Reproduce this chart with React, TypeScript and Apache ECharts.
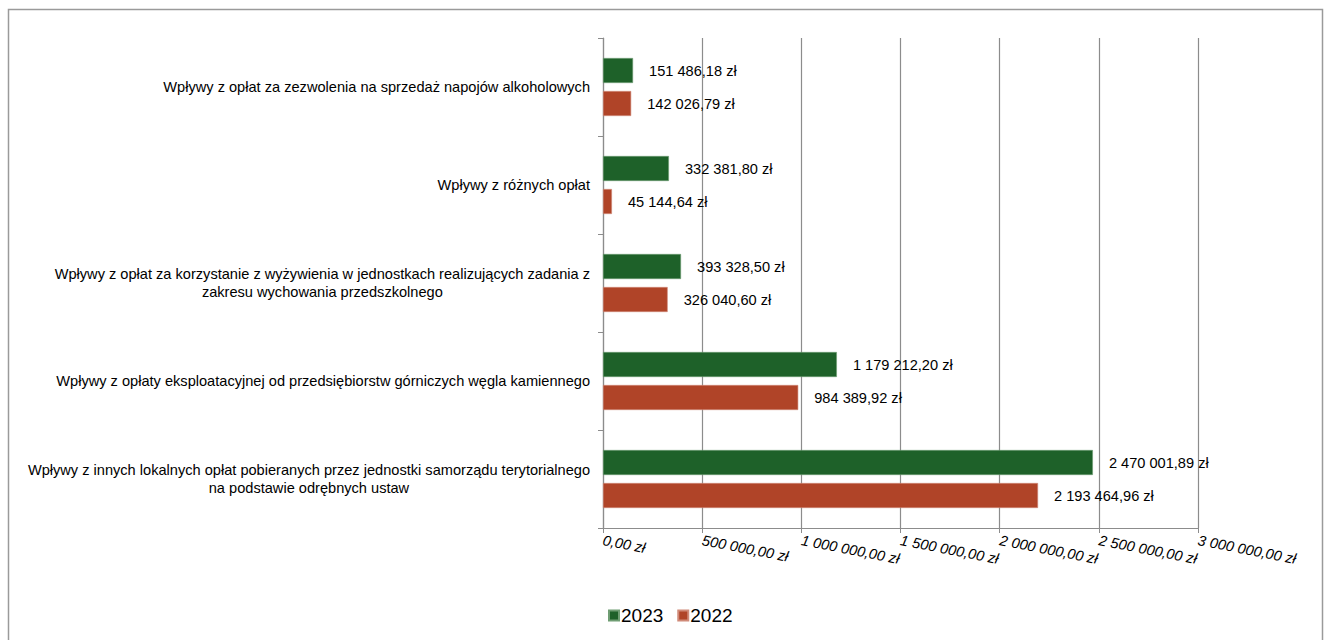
import React, { useEffect, useRef } from "react";
import * as echarts from "echarts";

const categories: string[] = [
  "Wpływy z opłat za zezwolenia na sprzedaż napojów alkoholowych",
  "Wpływy z różnych opłat",
  "Wpływy z opłat za korzystanie z wyżywienia w jednostkach realizujących zadania z\nzakresu wychowania przedszkolnego",
  "Wpływy z opłaty eksploatacyjnej od przedsiębiorstw górniczych węgla kamiennego",
  "Wpływy z innych lokalnych opłat pobieranych przez jednostki samorządu terytorialnego\nna podstawie odrębnych ustaw",
];
const values2023: number[] = [151486.18, 332381.8, 393328.5, 1179212.2, 2470001.89];
const values2022: number[] = [142026.79, 45144.64, 326040.6, 984389.92, 2193464.96];
const seriesNames: string[] = ["2023", "2022"];
const axisMin = 0;
const axisMax = 3000000;
const axisInterval = 500000;

const fmt = (v: number): string => {
  const [intPart, dec] = v.toFixed(2).split(".");
  const withSpaces = intPart.replace(/\B(?=(\d{3})+(?!\d))/g, " ");
  return `${withSpaces},${dec} zł`;
};

export default function App() {
  const ref = useRef<HTMLDivElement>(null);
  useEffect(() => {
    if (!ref.current) return;
    const chart = echarts.init(ref.current, undefined, { renderer: "svg" });
    const font = "'Liberation Sans', Arial, sans-serif";
    const fs = 14.6;
    const labelStyle = {
      show: true,
      position: "right" as const,
      distance: 16,
      color: "#000",
      fontSize: fs,
      fontFamily: font,
      formatter: (p: any) => fmt(p.value),
    };
    chart.setOption({
      animation: false,
      backgroundColor: "#fff",
      graphic: [
        {
          type: "rect",
          shape: { x: 8.5, y: 9.5, width: 1314, height: 660 },
          style: { fill: "none", stroke: "#9a9a9a", lineWidth: 1.5 },
          silent: true,
          z: 100,
        },
      ],
      grid: { left: 603, right: 127, top: 38, bottom: 112, containLabel: false },
      legend: {
        data: seriesNames,
        bottom: 10,
        left: 603,
        itemWidth: 10,
        itemHeight: 10,
        itemGap: 14,
        icon: "rect",
        textStyle: { fontSize: 19, color: "#000", fontFamily: font, padding: [0, 0, 0, -3] },
      },
      xAxis: {
        type: "value",
        min: axisMin,
        max: axisMax,
        interval: axisInterval,
        axisLine: { show: true, lineStyle: { color: "#8c8c8c", width: 1.2 } },
        axisTick: { show: true, length: 5, lineStyle: { color: "#8c8c8c" } },
        splitLine: { show: true, lineStyle: { color: "#8c8c8c", width: 1.2 } },
        axisLabel: {
          rotate: -11,
          margin: 12,
          color: "#000",
          fontSize: fs,
          fontStyle: "italic",
          fontFamily: font,
          formatter: (v: number) => fmt(v),
        },
      },
      yAxis: {
        type: "category",
        data: categories,
        inverse: true,
        axisLine: { show: true, lineStyle: { color: "#8c8c8c", width: 1.2 } },
        axisTick: { show: true, length: 5, lineStyle: { color: "#8c8c8c" } },
        axisLabel: {
          margin: 13,
          color: "#000",
          fontSize: fs,
          fontFamily: font,
          lineHeight: 18,
          formatter: (v: string) =>
            v
              .split("\n")
              .map((l) => `{c|${l}}`)
              .join("\n"),
          rich: {
            c: { align: "center", fontSize: fs, fontFamily: font, color: "#000", lineHeight: 18 },
          },
        },
      },
      series: [
        {
          name: seriesNames[0],
          type: "bar",
          data: values2023,
          barWidth: 25,
          barGap: "32%",
          itemStyle: { color: "#1e6129", borderColor: "#6f9d73", borderWidth: 0.6 },
          label: labelStyle,
        },
        {
          name: seriesNames[1],
          type: "bar",
          data: values2022,
          barWidth: 25,
          barGap: "32%",
          itemStyle: { color: "#b04428", borderColor: "#d08a78", borderWidth: 0.6 },
          label: labelStyle,
        },
      ],
    });
    return () => chart.dispose();
  }, []);
  return (
    <div
      ref={ref}
      style={{ position: "fixed", left: 0, top: 0, width: 1325, height: 640, background: "#fff" }}
    />
  );
}
